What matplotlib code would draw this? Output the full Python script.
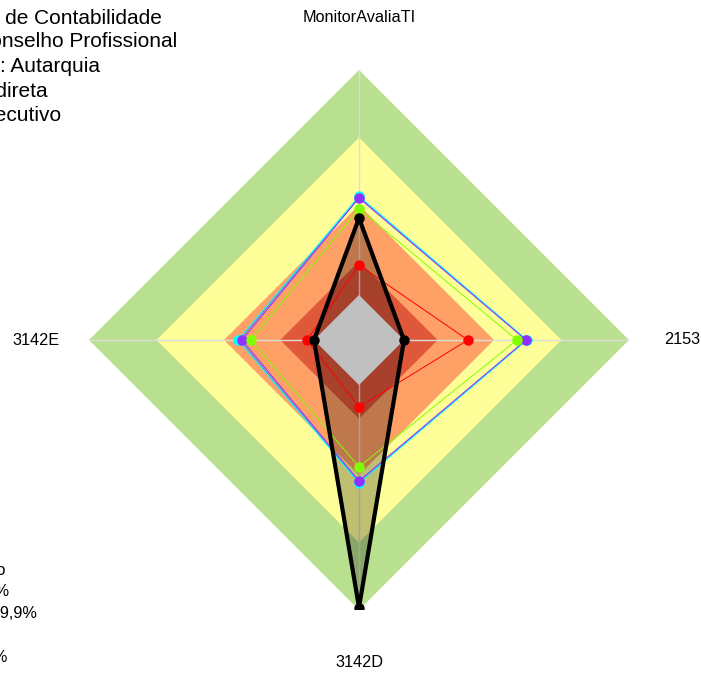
import numpy as np
import matplotlib
matplotlib.use("Agg")
import matplotlib.pyplot as plt

plt.rcParams['font.family'] = ['Liberation Sans', 'DejaVu Sans']

# eixos do radar (sentido horario a partir do topo)
eixos = ["MonitorAvaliaTI", "2153", "3142D", "3142E"]

# faixas de classificacao (limite superior de cada faixa)
faixas = [100, 70, 40, 15]
cores_faixas = ["#B9E08E", "#FFFF99", "#FFA066", "#E0583A"]
centro = 0
cor_centro = "#C0C0C0"
r_min = -20

# series
org_atual = [34.2, 0, 98.9, 0]
serie_vermelha = [13.3, 28.4, 9.8, 3.1]
serie_azul = [43.5, 54.4, 43.2, 33.0]
serie_ciano = [44.0, 54.7, 43.6, 33.8]
serie_roxa = [43.1, 54.2, 42.7, 32.0]
serie_verde = [38.3, 50.2, 36.4, 28.0]

info_orgao = ["Órgão: Conselho Federal de Contabilidade",
              "Tipo: Conselho Profissional",
              "Natureza: Autarquia",
              "Administração: Indireta",
              "Poder: Executivo"]
fim_info = [162, 177, 100, 48, 61]

legenda_faixas = ["Classificação",
                  "Inexpressivo: 0% a 14,9%",
                  "Iniciando: 15% a 39,9%",
                  "Intermediário",
                  "Aprimorado: 70% a 100%"]
fim_legenda = [5, 9, 37, -4, 7]


def fechar(vals):
    return list(vals) + [vals[0]]


W, H = 701, 673
fig = plt.figure(figsize=(W / 100, H / 100), dpi=100)
ax = fig.add_axes([89 / W, 63 / H, 540 / W, 540 / H], projection='polar')
ax.set_theta_zero_location('N')
ax.set_theta_direction(-1)
ax.set_ylim(r_min, 100)
ax.set_axis_off()

ang = np.deg2rad([0, 90, 180, 270])
ang_f = fechar(ang)

# faixas de fundo
for lim, cor in zip(faixas, cores_faixas):
    ax.fill(ang_f, [lim] * 5, color=cor, lw=0, zorder=1)

# linhas dos eixos
for a in ang:
    ax.plot([a, a], [r_min, 100], color='#DCDCDC', lw=1, zorder=2)

# area do orgao avaliado
ax.fill(ang_f, fechar(org_atual), color='black', alpha=0.25, lw=0, zorder=3)

# miolo cinza por cima
ax.fill(ang_f, [centro] * 5, color=cor_centro, lw=0, zorder=3.5)

series = [(serie_vermelha, '#FF0000'), (serie_azul, '#5080FF'),
          (serie_ciano, '#00FFFF'), (serie_roxa, '#9030FF'),
          (serie_verde, '#80FF00')]
for vals, cor in series:
    ax.plot(ang_f, fechar(vals), color=cor, lw=0.7, zorder=4)
for vals, cor in series:
    ax.plot(ang, vals, 'o', color=cor, ms=6.5, zorder=5)

ax.plot(ang_f, fechar(org_atual), color='black', lw=3, zorder=6)
ax.plot(ang, org_atual, 'o', color='black', ms=6.5, zorder=7)

# rotulos dos eixos
for a, nome in zip(ang, eixos):
    ax.text(a, 123.5, nome, ha='center', va='center', fontsize=11.7,
            clip_on=False)

# dados do orgao (canto superior esquerdo)
for i, (txt, x) in enumerate(zip(info_orgao, fim_info)):
    fig.text(x / W, 1 - (17 + 24.7 * i) / H, txt, ha='right', va='center',
             fontsize=15)

# legenda das faixas (canto inferior esquerdo)
for i, (txt, x) in enumerate(zip(legenda_faixas, fim_legenda)):
    fig.text(x / W, 1 - (570 + 21.8 * i) / H, txt, ha='right', va='center',
             fontsize=11.7)

fig.savefig("out.png", dpi=100)
